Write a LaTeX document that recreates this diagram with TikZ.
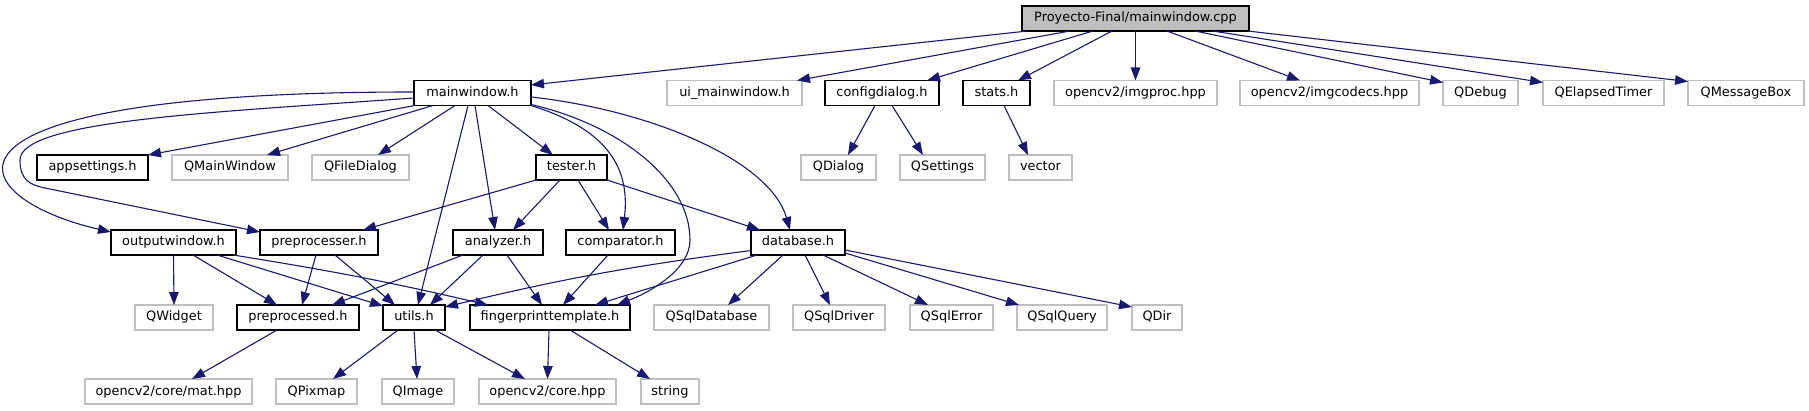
\documentclass[tikz,border=0pt]{standalone}
\usepackage{fontspec}
\setmainfont{DejaVu Sans}
\usetikzlibrary{arrows.meta}
\definecolor{edgeblue}{HTML}{191970}
\definecolor{extgrey}{HTML}{BFBFBF}
\definecolor{rootgrey}{HTML}{BFBFBF}
\tikzset{
 base/.style={rectangle, inner sep=0pt, outer sep=0pt, minimum height=25pt,
   font=\fontsize{12.9pt}{15pt}\selectfont, text height=9.6pt, text depth=2.6pt},
 doc/.style={base, draw=black, line width=1.2pt, fill=white},
 ext/.style={base, draw=extgrey, line width=1.1pt, fill=white},
 rootbox/.style={base, draw=black, line width=1.2pt, fill=rootgrey},
 dep/.style={draw=edgeblue, line width=1.1pt, -{Triangle[length=13pt,width=9.5pt]}},
}
\begin{document}
\begin{tikzpicture}[x=1pt,y=-1pt]
\useasboundingbox[fill=white] (0,0) rectangle (1809,411);
% row 0
\node[rootbox, minimum width=227pt] (root) at (1135.5,18.5) {Proyecto-Final/mainwindow.cpp};
% row 1
\node[doc, minimum width=117pt] (mw) at (472.5,93) {mainwindow.h};
\node[ext, minimum width=135pt] (ui) at (734.5,93) {ui\_mainwindow.h};
\node[doc, minimum width=114pt] (cd) at (882,93) {configdialog.h};
\node[doc, minimum width=67pt] (st) at (996.5,93) {stats.h};
\node[ext, minimum width=163pt] (ip) at (1135.5,93) {opencv2/imgproc.hpp};
\node[ext, minimum width=179pt] (ic) at (1329.5,93) {opencv2/imgcodecs.hpp};
\node[ext, minimum width=75pt] (qd) at (1480.5,93) {QDebug};
\node[ext, minimum width=121pt] (qet) at (1603.5,93) {QElapsedTimer};
\node[ext, minimum width=116pt] (qmb) at (1746,93) {QMessageBox};
% row 2
\node[doc, minimum width=111pt] (as) at (92.5,167.5) {appsettings.h};
\node[ext, minimum width=116pt] (qmw) at (230,167.5) {QMainWindow};
\node[ext, minimum width=97pt] (qfd) at (360.5,167.5) {QFileDialog};
\node[doc, minimum width=71pt] (te) at (571.5,167.5) {tester.h};
\node[ext, minimum width=75pt] (qdl) at (838.5,167.5) {QDialog};
\node[ext, minimum width=85pt] (qs) at (942.5,167.5) {QSettings};
\node[ext, minimum width=63pt] (vec) at (1040.5,167.5) {vector};
% row 3
\node[doc, minimum width=125pt] (ow) at (173.5,242.5) {outputwindow.h};
\node[doc, minimum width=118pt] (pp) at (319,242.5) {preprocesser.h};
\node[doc, minimum width=90pt] (an) at (498,242.5) {analyzer.h};
\node[doc, minimum width=109pt] (cmp) at (620.5,242.5) {comparator.h};
\node[doc, minimum width=94pt] (db) at (798,242.5) {database.h};
% row 4
\node[ext, minimum width=78pt] (qw) at (174,317.5) {QWidget};
\node[doc, minimum width=122pt] (ppd) at (298,317.5) {preprocessed.h};
\node[doc, minimum width=62pt] (ut) at (414,317.5) {utils.h};
\node[doc, minimum width=160pt] (fpt) at (550,317.5) {fingerprinttemplate.h};
\node[ext, minimum width=115pt] (qsdb) at (711.5,317.5) {QSqlDatabase};
\node[ext, minimum width=92pt] (qsdr) at (839,317.5) {QSqlDriver};
\node[ext, minimum width=83pt] (qse) at (951.5,317.5) {QSqlError};
\node[ext, minimum width=90pt] (qsq) at (1062,317.5) {QSqlQuery};
\node[ext, minimum width=50pt] (qdir) at (1157,317.5) {QDir};
% row 5
\node[ext, minimum width=167pt] (mat) at (168.5,391.5) {opencv2/core/mat.hpp};
\node[ext, minimum width=81pt] (qpm) at (316.5,391.5) {QPixmap};
\node[ext, minimum width=72pt] (qi) at (418,391.5) {QImage};
\node[ext, minimum width=137pt] (core) at (547.5,391.5) {opencv2/core.hpp};
\node[ext, minimum width=58pt] (str) at (670,391.5) {string};
% root edges
\draw[dep] ([xshift=-108pt]root.south) -- ([yshift=8pt]mw.east);
\draw[dep] ([xshift=-65.5pt]root.south) -- ([xshift=62.5pt]ui.north);
\draw[dep] ([xshift=-42.5pt]root.south) -- ([xshift=45pt]cd.north);
\draw[dep] ([xshift=-23.5pt]root.south) -- ([xshift=21.5pt]st.north);
\draw[dep] (root.south) -- (ip.north);
\draw[dep] ([xshift=31.5pt]root.south) -- ([xshift=-29.5pt]ic.north);
\draw[dep] ([xshift=59.5pt]root.south) -- ([yshift=-2pt]qd.north west);
\draw[dep] ([xshift=77pt]root.south) -- ([yshift=-2pt]qet.north west);
\draw[dep] ([xshift=112pt]root.south) -- ([yshift=-1pt]qmb.north west);
% mainwindow.h edges
\draw[dep] ([xshift=1pt]mw.south west) -- (as.north east);
\draw[dep] ([xshift=-39.5pt]mw.south) -- ([xshift=37pt]qmw.north);
\draw[dep] ([xshift=-17.5pt]mw.south) -- ([xshift=17.5pt]qfd.north);
\draw[dep] ([xshift=-4.5pt]mw.south) -- ([xshift=4pt]ut.north);
\draw[dep] ([xshift=2.5pt]mw.south) -- ([xshift=-3pt]an.north);
\draw[dep] ([xshift=15.5pt]mw.south) -- ([xshift=-18.5pt]te.north);
\draw[dep] (mw.south east) .. controls (610,130) and (630,170) .. ([xshift=2.5pt]cmp.north);
\draw[dep] ([yshift=1pt]mw.south east) .. controls (620,125) and (690,180) .. (690,240) .. controls (690,270) and (650,292) .. ([xshift=67pt]fpt.north);
\draw[dep] ([yshift=-4pt]mw.east) .. controls (650,110) and (770,160) .. ([xshift=-8pt]db.north);
\draw[dep] ([yshift=1pt]mw.west) .. controls (-100,92) and (-38,198) .. ([yshift=-2pt]ow.north west);
\draw[dep] ([yshift=-5pt]mw.west) .. controls (220,112) and (20,120) .. (20,160) .. controls (20,180) and (30,185) .. (45,188) -- ([yshift=-2pt]pp.north west);
% configdialog, stats
\draw[dep] ([xshift=-7pt]cd.south) -- ([xshift=9.5pt]qdl.north);
\draw[dep] ([xshift=10pt]cd.south) -- ([xshift=-19.5pt]qs.north);
\draw[dep] ([xshift=7.5pt]st.south) -- ([xshift=-12.5pt]vec.north);
% tester
\draw[dep] (te.south west) -- ([xshift=44pt]pp.north);
\draw[dep] ([xshift=-11.5pt]te.south) -- ([xshift=15pt]an.north);
\draw[dep] ([xshift=6.5pt]te.south) -- ([xshift=-11.5pt]cmp.north);
\draw[dep] (te.south east) -- ([xshift=-38pt]db.north);
% outputwindow
\draw[dep] (ow.south) -- (qw.north);
\draw[dep] ([xshift=19.5pt]ow.south) -- ([xshift=-21pt]ppd.north);
\draw[dep] ([xshift=43.5pt]ow.south) -- ([yshift=-1pt]ut.north west);
\draw[dep] ([xshift=59.5pt]ow.south) to[bend left=2] ([xshift=-62pt]fpt.north);
% preprocesser
\draw[dep] ([xshift=-3pt]pp.south) -- ([xshift=4pt]ppd.north);
\draw[dep] ([xshift=16pt]pp.south) -- ([xshift=-19pt]ut.north);
% analyzer
\draw[dep] ([xshift=-35pt]an.south) -- ([xshift=34pt]ppd.north);
\draw[dep] ([xshift=-15pt]an.south) -- ([xshift=16pt]ut.north);
\draw[dep] ([xshift=9pt]an.south) -- ([xshift=-8pt]fpt.north);
% comparator
\draw[dep] ([xshift=-12.5pt]cmp.south) -- ([xshift=13pt]fpt.north);
% database
\draw[dep] ([yshift=-8pt]db.west) to[bend right=3] ([yshift=-2pt]ut.north east);
\draw[dep] ([xshift=-41pt]db.south) -- ([xshift=45pt]fpt.north);
\draw[dep] ([xshift=-15pt]db.south) -- ([xshift=16.5pt]qsdb.north);
\draw[dep] ([xshift=7pt]db.south) -- ([xshift=-9pt]qsdr.north);
\draw[dep] ([xshift=25pt]db.south) -- ([xshift=-23.5pt]qse.north);
\draw[dep] ([yshift=2pt]db.south east) -- ([xshift=2pt]qsq.north west);
\draw[dep] ([yshift=-7.5pt]db.east) -- ([yshift=-2pt]qdir.north west);
% row 4 -> row 5
\draw[dep] ([xshift=-21pt]ppd.south) -- ([xshift=23.5pt]mat.north);
\draw[dep] ([xshift=-16pt]ut.south) -- ([xshift=16.5pt]qpm.north);
\draw[dep] (ut.south) -- ([xshift=-1pt]qi.north);
\draw[dep] ([xshift=21pt]ut.south) -- ([xshift=-22.5pt]core.north);
\draw[dep] ([xshift=-1pt]fpt.south) -- (core.north);
\draw[dep] ([xshift=20pt]fpt.south) -- ([xshift=-20pt]str.north);
\end{tikzpicture}
\end{document}
